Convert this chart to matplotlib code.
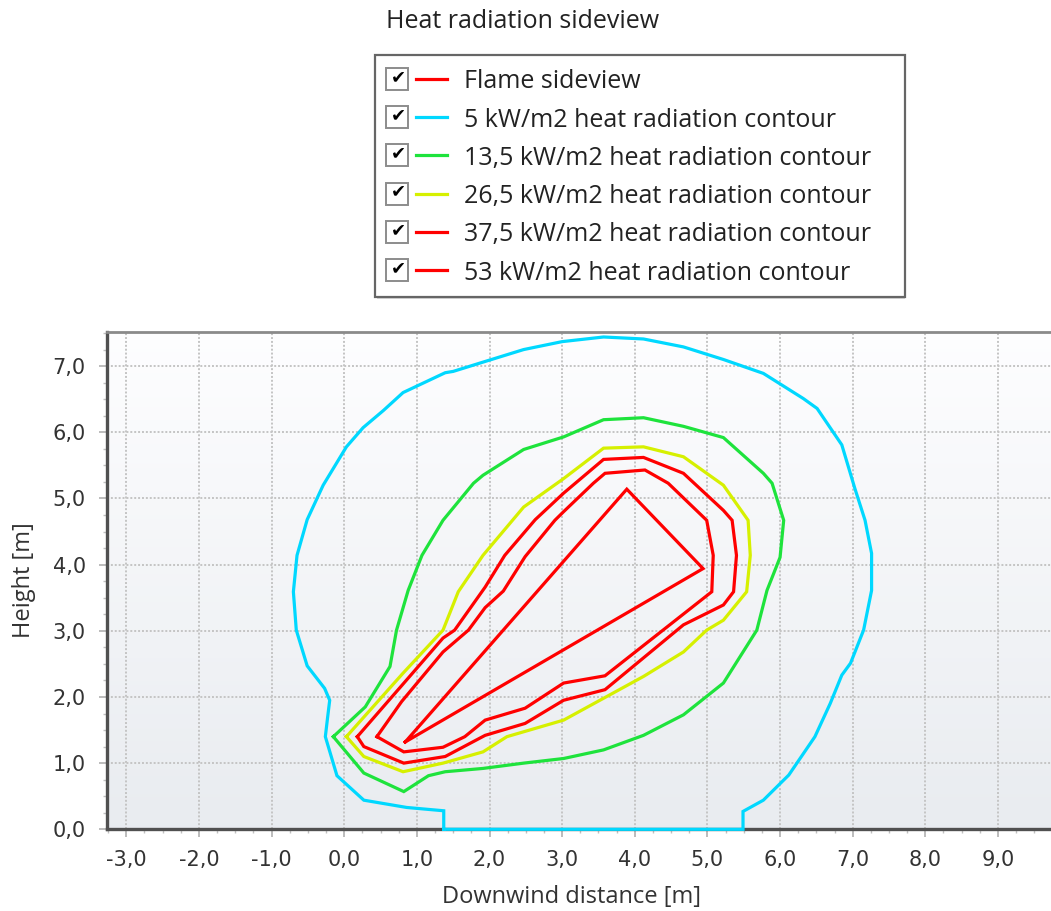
"""
Heat radiation sideview: flame outline and heat radiation contours
(5 / 13,5 / 26,5 / 37,5 / 53 kW/m2) seen from the side.
"""

import numpy as np
import matplotlib
matplotlib.use('Agg')
import matplotlib.pyplot as plt
from matplotlib.patches import Rectangle
from matplotlib.lines import Line2D
from matplotlib.ticker import MultipleLocator, FuncFormatter

# ── Data (metres) ────────────────────────────────────────────────────────────
flame_x = [0.84, 3.89, 4.94, 0.84]
flame_y = [1.32, 5.14, 3.94, 1.32]

c5_x = [1.37, 1.37, 0.86, 0.27, -0.10, -0.26, -0.23, -0.20, -0.27, -0.51, -0.66,
        -0.70, -0.65, -0.51, -0.29, 0.03, 0.26, 0.54, 0.81, 1.39, 1.50, 1.91,
        2.47, 3.00, 3.57, 4.12, 4.67, 5.22, 5.77, 6.32, 6.51, 6.85, 7.03, 7.17,
        7.26, 7.26, 7.15, 6.97, 6.85, 6.69, 6.48, 6.12, 5.77, 5.49, 5.49, 1.37]
c5_y = [0.00, 0.28, 0.33, 0.44, 0.81, 1.40, 1.68, 1.95, 2.13, 2.47, 3.01,
        3.59, 4.14, 4.68, 5.20, 5.78, 6.07, 6.33, 6.60, 6.90, 6.92, 7.06,
        7.25, 7.37, 7.44, 7.41, 7.29, 7.10, 6.89, 6.51, 6.36, 5.81, 5.15, 4.67,
        4.17, 3.61, 3.01, 2.51, 2.33, 1.90, 1.40, 0.82, 0.44, 0.27, 0.00, 0.00]

c13_x = [-0.15, 0.29, 0.63, 0.72, 0.88, 1.07, 1.36, 1.78, 1.91, 2.47, 3.02,
         3.57, 4.12, 4.67, 5.22, 5.77, 5.89, 6.05, 6.00, 5.82, 5.68, 5.22,
         4.67, 4.12, 3.57, 3.02, 2.47, 1.91, 1.39, 1.16, 0.82, 0.27, -0.15]
c13_y = [1.40, 1.85, 2.46, 3.01, 3.61, 4.14, 4.67, 5.23, 5.35, 5.74, 5.93,
         6.19, 6.22, 6.09, 5.92, 5.38, 5.23, 4.67, 4.11, 3.61, 3.01, 2.21,
         1.73, 1.42, 1.20, 1.07, 1.00, 0.92, 0.87, 0.81, 0.57, 0.85, 1.40]

c26_x = [0.03, 0.81, 1.36, 1.57, 1.91, 2.47, 3.02, 3.57, 4.12, 4.67, 5.22,
         5.56, 5.59, 5.54, 5.22, 4.99, 4.67, 4.12, 3.57, 3.02, 2.24, 1.91,
         1.36, 0.81, 0.27, 0.03]
c26_y = [1.40, 2.36, 3.01, 3.59, 4.14, 4.87, 5.30, 5.76, 5.78, 5.63, 5.20,
         4.67, 4.14, 3.59, 3.16, 3.01, 2.68, 2.31, 1.98, 1.65, 1.40, 1.17,
         1.00, 0.87, 1.10, 1.40]

c37_x = [0.18, 1.36, 1.52, 1.94, 2.21, 2.63, 3.02, 3.57, 4.12, 4.67, 5.22,
         5.34, 5.40, 5.36, 5.22, 4.67, 3.59, 3.02, 2.49, 1.94, 1.39, 0.82,
         0.27, 0.18]
c37_y = [1.40, 2.89, 3.01, 3.66, 4.14, 4.68, 5.08, 5.59, 5.62, 5.38, 4.82,
         4.67, 4.14, 3.59, 3.39, 3.09, 2.11, 1.95, 1.60, 1.42, 1.10, 1.00,
         1.25, 1.40]

c53_x = [0.45, 0.79, 1.36, 1.71, 1.94, 2.19, 2.49, 2.90, 3.02, 3.43, 3.59,
         4.14, 4.46, 4.99, 5.08, 5.06, 3.59, 3.02, 2.49, 1.94, 1.66, 1.36,
         0.82, 0.45]
c53_y = [1.40, 1.93, 2.68, 3.01, 3.35, 3.60, 4.12, 4.67, 4.80, 5.23, 5.38,
         5.43, 5.23, 4.67, 4.14, 3.59, 2.32, 2.21, 1.83, 1.65, 1.40, 1.24,
         1.17, 1.40]

labels = ['Flame sideview',
          '5 kW/m2 heat radiation contour',
          '13,5 kW/m2 heat radiation contour',
          '26,5 kW/m2 heat radiation contour',
          '37,5 kW/m2 heat radiation contour',
          '53 kW/m2 heat radiation contour']
colors = ['#ff0000', '#00d8ff', '#1ee33c', '#d6f000', '#ff0000', '#ff0000']
series = [(flame_x, flame_y), (c5_x, c5_y), (c13_x, c13_y),
          (c26_x, c26_y), (c37_x, c37_y), (c53_x, c53_y)]

# ── Figure ───────────────────────────────────────────────────────────────────
W, H = 1051, 911
plt.rcParams['font.family'] = ['Open Sans', 'DejaVu Sans']
fig = plt.figure(figsize=(W / 100, H / 100), dpi=100)

def fx(px):
    return px / W

def fy(py):
    return 1 - py / H

ax_left, ax_top, ax_bottom = 106.7, 331.7, 829.3
ax_w, ax_h = W - ax_left, ax_bottom - ax_top
ax = fig.add_axes([fx(ax_left), fy(ax_bottom), ax_w / W, ax_h / H])
ax.set_xlim(-3.27, 9.73)
ax.set_ylim(0, 7.52)

# gradient background
grad = np.linspace(0, 1, 256).reshape(-1, 1)
top_c = np.array([0.995, 0.995, 1.0])
bot_c = np.array([0.913, 0.925, 0.941])
img = top_c * (1 - grad[..., None]) + bot_c * grad[..., None]
ax.imshow(img, extent=[0, 1, 0, 1], transform=ax.transAxes, aspect='auto',
          zorder=0, origin='upper')

for (xs, ys), c in zip(series, colors):
    ax.plot(xs, ys, color=c, lw=2.3, zorder=5, clip_on=False,
            solid_joinstyle='miter')

# axes style
ax.xaxis.set_major_locator(MultipleLocator(1.0))
ax.xaxis.set_minor_locator(MultipleLocator(0.25))
ax.yaxis.set_major_locator(MultipleLocator(1.0))
ax.yaxis.set_minor_locator(MultipleLocator(0.25))
fmt = FuncFormatter(lambda v, p: f'{v:.1f}'.replace('.', ','))
ax.xaxis.set_major_formatter(fmt)
ax.yaxis.set_major_formatter(fmt)
ax.tick_params(which='major', length=6, width=1.2, color='#b0b0b0',
               labelsize=15, labelcolor='#333333', pad=9)
ax.tick_params(which='minor', length=3, width=1, color='#c0c0c0')
for lab in ax.get_xticklabels() + ax.get_yticklabels():
    lab.set_family('DejaVu Sans')
ax.grid(True, which='major', linestyle=(0, (1, 1)), color='#c4c4c4', lw=1.4, zorder=1)
ax.set_axisbelow(True)

ax.spines['left'].set_color('#505050')
ax.spines['left'].set_linewidth(2.4)
ax.spines['bottom'].set_color('#505050')
ax.spines['bottom'].set_linewidth(2.4)
ax.spines['top'].set_color('#8a8a8a')
ax.spines['top'].set_linewidth(2.0)
ax.spines['right'].set_visible(False)
for s in ax.spines.values():
    s.set_zorder(3)

ax.set_xlabel('Downwind distance [m]', fontsize=17, color='#333333', va='center')
ax.set_ylabel('Height [m]', fontsize=17, color='#333333', va='center')
ax.xaxis.set_label_coords((572 - ax_left) / ax_w, -(897 - ax_bottom) / ax_h)
ax.yaxis.set_label_coords((24 - ax_left) / ax_w, (ax_bottom - 580) / ax_h)

# ── Legend (drawn by hand, with check boxes) ─────────────────────────────────
fig.text(fx(386), fy(22), 'Heat radiation sideview', fontsize=18,
         color='#222222', va='center', ha='left')
fig.add_artist(Rectangle((fx(377), fy(299)), fx(905) - fx(377), fy(57) - fy(299),
                         transform=fig.transFigure, facecolor='#b0b0b0',
                         edgecolor='none', alpha=0.5))
fig.add_artist(Rectangle((fx(375), fy(297)), fx(905) - fx(375), fy(55) - fy(297),
                         transform=fig.transFigure, facecolor='white',
                         edgecolor='#666666', lw=1.6))
row0, row_step = 80, 38.2
for i, (lab, c) in enumerate(zip(labels, colors)):
    yc = row0 + i * row_step
    fig.add_artist(Rectangle((fx(386), fy(yc + 10)), fx(22), 22 / H,
                             transform=fig.transFigure, facecolor='white',
                             edgecolor='#8c8c8c', lw=1.4))
    fig.text(fx(398), fy(yc - 3), '\u2714', fontsize=13, color='black',
             ha='center', va='center', family='DejaVu Sans')
    fig.add_artist(Line2D([fx(416), fx(447)], [fy(yc - 1), fy(yc - 1)],
                          transform=fig.transFigure, color=c, lw=2.3))
    fig.text(fx(464), fy(yc + 2), lab, fontsize=18, color='#222222',
             va='center', ha='left')

fig.savefig('out.png', dpi=100)
